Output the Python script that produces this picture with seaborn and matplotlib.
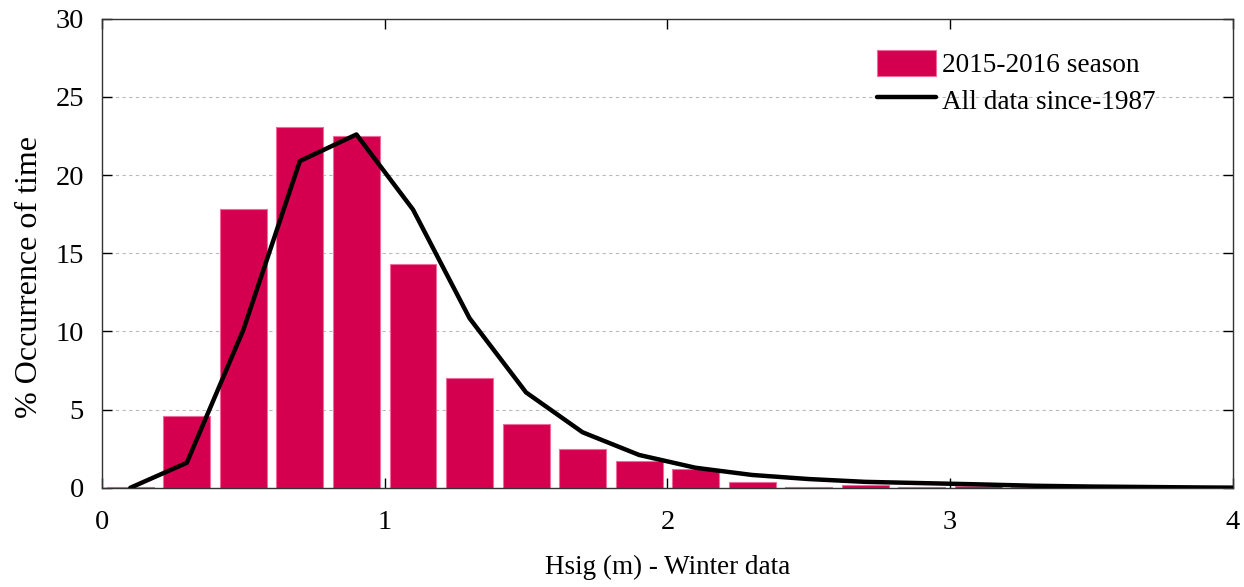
import numpy as np
import pandas as pd
import matplotlib
matplotlib.use("Agg")
import matplotlib.pyplot as plt
import seaborn as sns

# Data
hsig_centers = [0.1, 0.3, 0.5, 0.7, 0.9, 1.1, 1.3, 1.5, 1.7, 1.9, 2.1, 2.3, 2.5, 2.7, 2.9, 3.1, 3.3,
                3.5, 3.7, 3.9, 4.1]
season_2015_2016 = [0.05, 4.6, 17.85, 23.05, 22.5, 14.3, 7.0, 4.05, 2.5, 1.7, 1.22, 0.35, 0.05, 0.15,
                    0.08, 0.1, 0.05, 0.0, 0.0, 0.0, 0.0]
all_data_since_1987 = [0.0, 1.6, 10.1, 20.9, 22.6, 17.8, 10.85, 6.1, 3.55, 2.1, 1.28, 0.82, 0.56,
                       0.38, 0.3, 0.22, 0.13, 0.08, 0.05, 0.02, 0.0]
x_ticks = [0, 1, 2, 3, 4]
y_ticks = [0, 5, 10, 15, 20, 25, 30]

sns.set_theme(style="ticks")
plt.rcParams['font.family'] = ['Liberation Serif', 'DejaVu Serif']
plt.rcParams['text.color'] = 'black'
plt.rcParams['axes.labelcolor'] = 'black'

df = pd.DataFrame({"hsig": hsig_centers, "season": season_2015_2016, "all": all_data_since_1987})

fig = plt.figure(figsize=(12.44, 5.87), dpi=100)
ax = fig.add_axes([0.082, 0.169, 0.909, 0.799])

bar_color = "#D4004F"
sns.barplot(data=df, x="hsig", y="season", native_scale=True, width=0.83,
            color=bar_color, saturation=1, edgecolor="#F06A9A", linewidth=0.8,
            ax=ax, label="2015-2016 season", zorder=2)
sns.lineplot(data=df, x="hsig", y="all", color="black", linewidth=3.2, ax=ax,
             label="All data since-1987", zorder=3)

ax.set_xlim(0, 4)
ax.set_ylim(0, 30)
ax.set_xticks(x_ticks)
ax.set_yticks(y_ticks)
ax.set_xticklabels([str(t) for t in x_ticks])
ax.set_yticklabels([str(t) for t in y_ticks])
ax.tick_params(direction="in", top=True, right=True, labeltop=False, labelright=False,
               length=7, width=1, labelsize=20.5, colors="black")
ax.tick_params(axis="x", pad=16)
ax.tick_params(axis="y", pad=13)
ax.yaxis.grid(True, linestyle=(0, (3, 3)), color="#BBBBBB", linewidth=0.8, zorder=0)
ax.set_axisbelow(True)
for s in ax.spines.values():
    s.set_color("#333333")
    s.set_linewidth(1.0)

ax.set_xlabel("Hsig (m) - Winter data", fontsize=19.5, labelpad=14)
ax.set_ylabel("% Occurrence of time", fontsize=23, labelpad=8)
ax.yaxis.label.set_y(0.45)

handles, labels = ax.get_legend_handles_labels()
order = ["2015-2016 season", "All data since-1987"]
hmap = dict(zip(labels, handles))
leg = ax.legend([hmap[l] for l in order], order, loc="upper left",
                bbox_to_anchor=(0.685, 0.934), frameon=False,
                fontsize=19.6, handlelength=2.2, handleheight=1.1, handletextpad=0.2,
                labelspacing=0.3, borderaxespad=0, borderpad=0)

fig.savefig("out.png", dpi=100)
